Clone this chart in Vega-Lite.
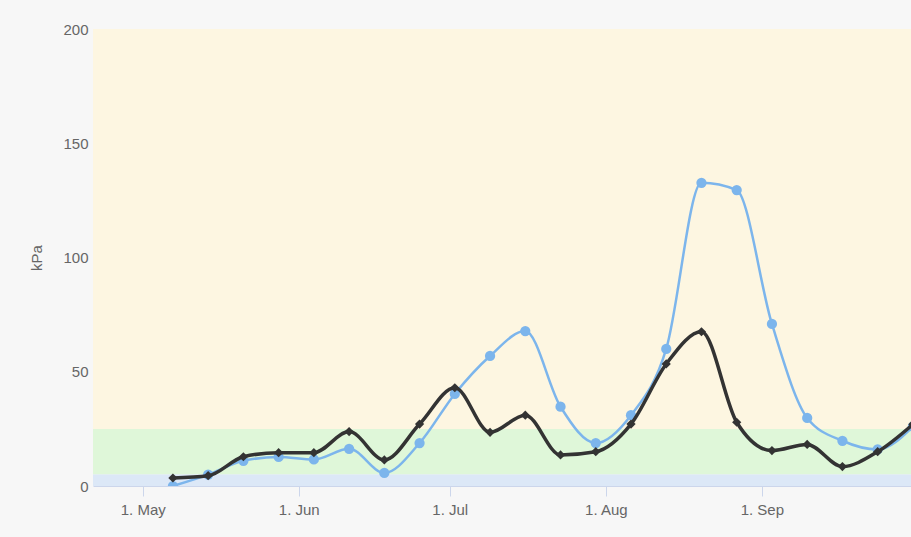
{
  "$schema": "https://vega.github.io/schema/vega-lite/v6.json",
  "width": 818,
  "height": 457,
  "autosize": {"type": "none"},
  "padding": {"left": 93, "top": 29, "right": 0, "bottom": 51},
  "background": "#f7f7f7",
  "config": {
    "view": {"stroke": null},
    "font": "Liberation Sans",
    "axis": {"labelColor": "#666666", "titleColor": "#666666", "labelFontSize": 15, "titleFontSize": 15, "titleFontWeight": "normal", "labelFont": "Liberation Sans", "titleFont": "Liberation Sans"}
  },
  "datasets": {
    "bands": [
      {"lo": 25, "hi": 200, "band": "high"},
      {"lo": 5, "hi": 25, "band": "mid"},
      {"lo": 0, "hi": 5, "band": "low"}
    ],
    "series": [
      {"date": "2021-05-07", "series": "blue", "value": 0},
      {"date": "2021-05-14", "series": "blue", "value": 5},
      {"date": "2021-05-21", "series": "blue", "value": 11},
      {"date": "2021-05-28", "series": "blue", "value": 12.7},
      {"date": "2021-06-04", "series": "blue", "value": 11.6},
      {"date": "2021-06-11", "series": "blue", "value": 16.3},
      {"date": "2021-06-18", "series": "blue", "value": 5.7},
      {"date": "2021-06-25", "series": "blue", "value": 18.8},
      {"date": "2021-07-02", "series": "blue", "value": 40.3},
      {"date": "2021-07-09", "series": "blue", "value": 56.9},
      {"date": "2021-07-16", "series": "blue", "value": 67.8},
      {"date": "2021-07-23", "series": "blue", "value": 34.7},
      {"date": "2021-07-30", "series": "blue", "value": 18.8},
      {"date": "2021-08-06", "series": "blue", "value": 31},
      {"date": "2021-08-13", "series": "blue", "value": 60},
      {"date": "2021-08-20", "series": "blue", "value": 132.7},
      {"date": "2021-08-27", "series": "blue", "value": 129.5},
      {"date": "2021-09-03", "series": "blue", "value": 70.9},
      {"date": "2021-09-10", "series": "blue", "value": 29.8},
      {"date": "2021-09-17", "series": "blue", "value": 19.8},
      {"date": "2021-09-24", "series": "blue", "value": 16},
      {"date": "2021-10-01", "series": "blue", "value": 26},
      {"date": "2021-05-07", "series": "black", "value": 3.5},
      {"date": "2021-05-14", "series": "black", "value": 4.5},
      {"date": "2021-05-21", "series": "black", "value": 12.8},
      {"date": "2021-05-28", "series": "black", "value": 14.6},
      {"date": "2021-06-04", "series": "black", "value": 14.6},
      {"date": "2021-06-11", "series": "black", "value": 23.8},
      {"date": "2021-06-18", "series": "black", "value": 11.4},
      {"date": "2021-06-25", "series": "black", "value": 27.1},
      {"date": "2021-07-02", "series": "black", "value": 43},
      {"date": "2021-07-09", "series": "black", "value": 23.5},
      {"date": "2021-07-16", "series": "black", "value": 31},
      {"date": "2021-07-23", "series": "black", "value": 13.6},
      {"date": "2021-07-30", "series": "black", "value": 15},
      {"date": "2021-08-06", "series": "black", "value": 27.1},
      {"date": "2021-08-13", "series": "black", "value": 53.4},
      {"date": "2021-08-20", "series": "black", "value": 67.5},
      {"date": "2021-08-27", "series": "black", "value": 27.9},
      {"date": "2021-09-03", "series": "black", "value": 15.5},
      {"date": "2021-09-10", "series": "black", "value": 18.2},
      {"date": "2021-09-17", "series": "black", "value": 8.5},
      {"date": "2021-09-24", "series": "black", "value": 15},
      {"date": "2021-10-01", "series": "black", "value": 27}
    ]
  },
  "layer": [
    {
      "data": {"name": "bands"},
      "mark": {"type": "rect"},
      "encoding": {
        "y": {
          "field": "lo",
          "type": "quantitative",
          "title": "kPa",
          "scale": {"domain": [0, 200]},
          "axis": {
            "values": [0, 50, 100, 150, 200],
            "domain": false,
            "ticks": false,
            "grid": false,
            "labelPadding": 5,
            "titlePadding": 18
          }
        },
        "y2": {"field": "hi"},
        "color": {"field": "band", "type": "nominal", "scale": {"domain": ["high", "mid", "low"], "range": ["#fdf6e1", "#dff7d9", "#dce8f7"]}, "legend": null}
      }
    },
    {
      "data": {"name": "series"},
      "transform": [{"filter": "datum.series === 'blue'"}],
      "layer": [
        {
          "mark": {"type": "line", "interpolate": "monotone", "color": "#7cb5ec", "strokeWidth": 2.5, "clip": true},
          "encoding": {}
        },
        {
          "mark": {"type": "point", "shape": "circle", "filled": true, "opacity": 1, "color": "#7cb5ec", "size": 105, "clip": true},
          "encoding": {}
        }
      ],
      "encoding": {
        "x": {
          "field": "date",
          "type": "temporal",
          "title": null,
          "scale": {"type": "utc", "domain": [{"year": 2021, "month": 4, "date": 21, "hours": 3, "utc": true}, {"year": 2021, "month": 9, "date": 30, "hours": 15, "utc": true}]},
          "axis": {
            "values": [
              {"year": 2021, "month": 5, "date": 1, "utc": true},
              {"year": 2021, "month": 6, "date": 1, "utc": true},
              {"year": 2021, "month": 7, "date": 1, "utc": true},
              {"year": 2021, "month": 8, "date": 1, "utc": true},
              {"year": 2021, "month": 9, "date": 1, "utc": true}
            ],
            "labelExpr": "'1. ' + utcFormat(datum.value, '%b')",
            "domainColor": "#ccd6eb",
            "tickColor": "#ccd6eb",
            "tickSize": 10,
            "labelPadding": 6,
            "grid": false,
            "labelFlush": false,
            "labelOverlap": false
          }
        },
        "y": {"field": "value", "type": "quantitative"}
      }
    },
    {
      "data": {"name": "series"},
      "transform": [{"filter": "datum.series === 'black'"}],
      "layer": [
        {
          "mark": {"type": "line", "interpolate": "monotone", "color": "#333333", "strokeWidth": 3.5, "clip": true},
          "encoding": {}
        },
        {
          "mark": {"type": "point", "shape": "diamond", "filled": true, "opacity": 1, "color": "#333333", "size": 85, "clip": true},
          "encoding": {}
        }
      ],
      "encoding": {
        "x": {"field": "date", "type": "temporal"},
        "y": {"field": "value", "type": "quantitative"}
      }
    }
  ]
}
